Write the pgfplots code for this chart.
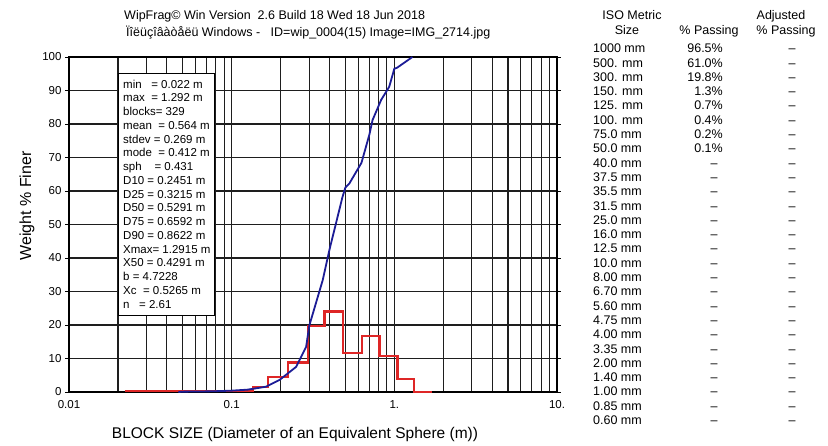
\documentclass[border=0pt]{standalone}
\usepackage{pgfplots}
\pgfplotsset{compat=1.18}
\usepackage{fontspec}
\setmainfont{Liberation Sans}
\definecolor{gridc}{RGB}{30,30,30}
\definecolor{bluec}{RGB}{28,28,150}
\definecolor{redc}{RGB}{222,38,38}
\begin{document}
\begin{tikzpicture}
\path[use as bounding box] (0,0) rectangle (828pt,-446pt);
\begin{axis}[at={(69pt,-392pt)}, anchor=south west, scale only axis,
  width=488pt, height=335pt,
  xmode=log, xmin=0.01, xmax=10, ymin=0, ymax=100,
  xtick={0.01,0.1,1,10}, xticklabels={0.01,0.1,1.,10.},
  minor xtick={0.02,0.03,0.04,0.05,0.06,0.07,0.08,0.09,0.2,0.3,0.4,0.5,0.6,0.7,0.8,0.9,2,3,4,5,6,7,8,9},
  ytick={0,10,20,30,40,50,60,70,80,90,100},
  yticklabels={0,10,20,30,40,50,60,70,80,90,100},
  grid=both,
  major grid style={gridc, line width=1.1pt},
  minor grid style={gridc, line width=1.1pt},
  axis line style={black, line width=1.1pt},
  xtick style={draw=none}, minor tick length=0pt,
  ytick style={black}, tick align=outside, major tick length=4pt,
  tick label style={font=\fontsize{11.5}{13}\selectfont},
  xticklabel style={yshift=-1pt},
  clip=false]
\addplot[redc, line width=2.3pt, const plot, line join=miter] coordinates {
 (0.022,0.3) (0.135,1.4) (0.167,4.4) (0.222,8.8) (0.294,19.8) (0.372,24.0)
 (0.482,11.7) (0.634,16.8) (0.809,10.7) (1.047,3.8) (1.327,0) (1.71,0)};
\addplot[bluec, line width=1.8pt] coordinates {
 (0.047,0) (0.05,0.1) (0.075,0.2) (0.1,0.4) (0.125,0.7) (0.15,1.3) (0.163,1.6)
 (0.197,3.6) (0.249,7.5) (0.287,13.5) (0.3,19.8) (0.363,33.4) (0.399,42.4)
 (0.428,48.4) (0.48,58.2) (0.5,61.0) (0.53,62.3) (0.628,68.4) (0.703,76.9)
 (0.735,81.2) (0.83,87.2) (0.93,91.1) (1.0,96.5) (1.04,96.8) (1.292,100)};
\end{axis}
% titles
\node[anchor=base west, inner sep=0, font=\fontsize{12.5}{15}\selectfont] at (124pt,-20pt)
 {WipFrag© Win Version~~2.6 Build 18 Wed 18 Jun 2018};
\node[anchor=base west, inner sep=0, font=\fontsize{12.5}{15}\selectfont] at (126pt,-37pt)
 {Ïîëüçîâàòåëü Windows -~~~ID=wip\_0004(15) Image=IMG\_2714.jpg};
% axis labels
\node[rotate=90, inner sep=0, font=\fontsize{16}{18}\selectfont] at (27pt,-206pt) {Weight \% Finer};
\node[inner sep=0, font=\fontsize{15.5}{18}\selectfont] at (295pt,-434pt)
 {BLOCK SIZE (Diameter of an Equivalent Sphere (m))};
% stats box
\draw[black, line width=0.9pt, fill=white] (118pt,-73pt) rectangle (214pt,-315pt);
\node[anchor=north west, inner sep=0, align=left, font=\fontsize{11.5}{13.75}\selectfont] at (123pt,-79.5pt)
 {min~~~= 0.022 m\\
  max~~= 1.292 m\\
  blocks= 329\\
  mean~~= 0.564 m\\
  stdev = 0.269 m\\
  mode~~= 0.412 m\\
  sph~~~~= 0.431\\
  D10 = 0.2451 m\\
  D25 = 0.3215 m\\
  D50 = 0.5291 m\\
  D75 = 0.6592 m\\
  D90 = 0.8622 m\\
  Xmax= 1.2915 m\\
  X50 = 0.4291 m\\
  b = 4.7228\\
  Xc~~= 0.5265 m\\
  n~~~= 2.61};
% right table
\begin{scope}[every node/.style={inner sep=0, font=\fontsize{12.5}{15}\selectfont}]
\node[anchor=base] at (632pt,-20pt) {ISO Metric};
\node[anchor=base] at (627pt,-35pt) {Size};
\node[anchor=base] at (709pt,-35pt) {\% Passing};
\node[anchor=base] at (781pt,-20pt) {Adjusted};
\node[anchor=base] at (786pt,-35pt) {\% Passing};
\foreach \s [count=\i from 0] in {1000 mm,500. mm,300. mm,150. mm,125. mm,100. mm,75.0 mm,50.0 mm,40.0 mm,37.5 mm,35.5 mm,31.5 mm,25.0 mm,16.0 mm,12.5 mm,10.0 mm,8.00 mm,6.70 mm,5.60 mm,4.75 mm,4.00 mm,3.35 mm,2.00 mm,1.40 mm,1.00 mm,0.85 mm,0.60 mm}
 {\node[anchor=base west] at (593pt,{-(52.8+14.3*\i)*1pt}) {\s};
  \node[anchor=base] at (792pt,{-(52.8+14.3*\i)*1pt}) {--};}
\foreach \v [count=\i from 0] in {96.5\%,61.0\%,19.8\%,1.3\%,0.7\%,0.4\%,0.2\%,0.1\%}
 {\node[anchor=base east] at (723pt,{-(52.8+14.3*\i)*1pt}) {\v};}
\foreach \i in {8,...,26}
 {\node[anchor=base] at (714pt,{-(52.8+14.3*\i)*1pt}) {--};}
\end{scope}
\end{tikzpicture}
\end{document}
